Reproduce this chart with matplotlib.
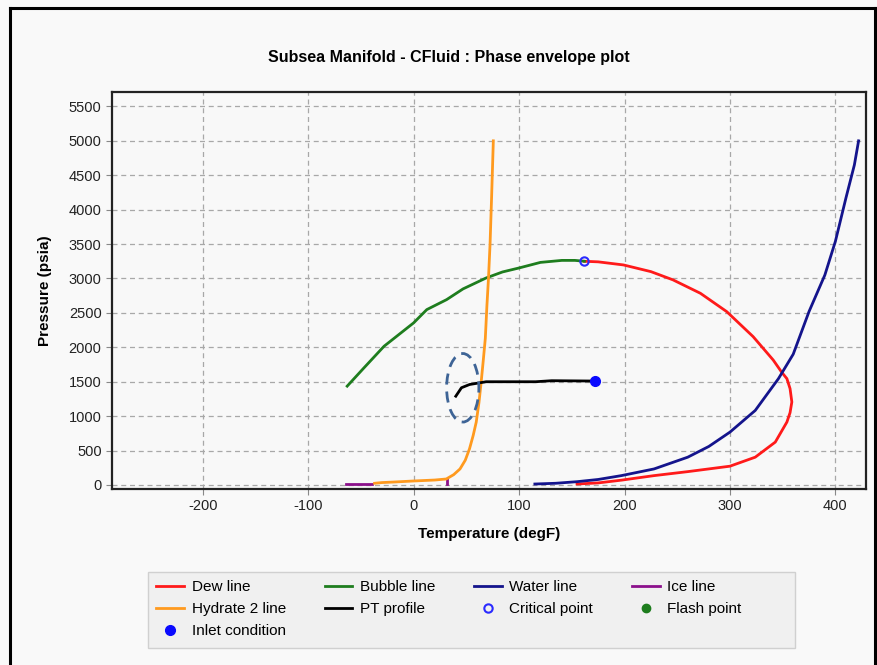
import numpy as np
import matplotlib
matplotlib.use("Agg")
import matplotlib.pyplot as plt
from matplotlib.patches import Ellipse, Rectangle
from matplotlib.lines import Line2D

plt.rcParams['font.family'] = ['Liberation Sans', 'DejaVu Sans']
plt.rcParams['axes.unicode_minus'] = False

# --- data (degF, psia) ---
dew_T = [162, 175, 199, 225, 246, 272, 297, 322, 341, 349, 354, 357, 358.7,
         357, 354, 343, 324, 300, 260, 228, 197, 175, 155]
dew_P = [3250, 3242, 3197, 3100, 2980, 2785, 2518, 2155, 1816, 1640, 1545, 1400, 1206,
         1050, 914, 623, 404, 273, 194, 136, 70, 30, 14]

bubble_T = [-63, -47, -28, 0, 12.5, 31.3, 46.9, 68.8, 84.3, 100, 120.3, 140.6, 153, 162]
bubble_P = [1436, 1703, 2016, 2355, 2548, 2693, 2849, 3008, 3095, 3153, 3234, 3263, 3263, 3250]

water_T = [115, 135, 155, 175, 197, 228, 260, 280, 300, 324, 346, 360, 375, 390, 400, 410, 418, 422]
water_P = [14, 25, 48, 80, 136, 233, 404, 560, 768, 1083, 1545, 1900, 2520, 3050, 3540, 4170, 4650, 5000]

ice_T = [-64, -39, np.nan, 31.3, 31.3]
ice_P = [20, 20, np.nan, 15, 90]

hydrate_T = [-37, -30, -20, -10, 0, 10, 20, 31, 38, 44, 49, 53, 56.5, 59.4, 62,
             64.1, 66, 68, 69.5, 71, 72.5, 74, 75.6]
hydrate_P = [25, 35, 42, 50, 58, 65, 72, 87, 150, 233, 360, 525, 720, 914, 1200,
             1500, 1800, 2130, 2600, 3000, 3500, 4200, 5000]

pt_T = [40, 45.4, 53.1, 68.8, 115.6, 131, 172]
pt_P = [1290, 1413, 1460, 1500, 1500, 1515, 1510]

critical_T, critical_P = [162], [3250]
flash_T, flash_P = [], []
inlet_T, inlet_P = [172], [1510]

# hand-drawn highlight around the start of the PT profile
mark_center = (46.6, 1412)
mark_size = (30.6, 996)

fig = plt.figure(figsize=(8.78, 6.65), dpi=100, facecolor='#f9f9f9')
ax = fig.add_axes([0.1276, 0.2647, 0.8587, 0.5970])
ax.set_facecolor('#f8f8f8')

ax.plot(dew_T, dew_P, color='#ff1a1a', lw=2, label='Dew line', zorder=3)
ax.plot(bubble_T, bubble_P, color='#1e7d1e', lw=2, label='Bubble line', zorder=3)
ax.plot(water_T, water_P, color='#14148c', lw=2, label='Water line', zorder=3)
ax.plot(ice_T, ice_P, color='#8b108b', lw=2, label='Ice line', zorder=3)
ax.plot(hydrate_T, hydrate_P, color='#ff9a1f', lw=2, label='Hydrate 2 line', zorder=3)
ax.plot(pt_T, pt_P, color='black', lw=2, label='PT profile', zorder=4)
ax.plot(critical_T, critical_P, 'o', ms=6, mfc='none', mec='#2a2aff', mew=1.5,
        label='Critical point', zorder=5)
ax.plot(flash_T, flash_P, 'o', ms=6, color='#1e7d1e', label='Flash point', zorder=5)
ax.plot(inlet_T, inlet_P, 'o', ms=7, color='#0a0aff', label='Inlet condition', zorder=5)

ax.add_patch(Ellipse(mark_center, mark_size[0], mark_size[1], fill=False,
                     ec='#3e6496', lw=2, ls=(0, (4, 2.5)), zorder=6))

ax.set_xlim(-286, 429)
ax.set_ylim(-58, 5710)
ax.set_xticks(np.arange(-200, 401, 100))
ax.set_yticks(np.arange(0, 5501, 500))
ax.grid(True, color='#a8a8a8', ls=(0, (4, 3)), lw=0.9)
ax.tick_params(labelsize=10.5, labelcolor='#222222', color='#888888', length=4)
for s in ax.spines.values():
    s.set_linewidth(1.6)
    s.set_color('#222222')

ax.set_xlabel('Temperature (degF)', fontsize=11, fontweight='bold')
ax.set_ylabel('Pressure (psia)', fontsize=11, fontweight='bold')
ax.xaxis.set_label_coords(0.5, -0.095)
ax.yaxis.set_label_coords(-0.08, 0.5)

fig.text(0.511, 0.913, 'Subsea Manifold - CFluid : Phase envelope plot',
         ha='center', va='center', fontsize=11.5, fontweight='bold')

# legend box drawn separately; the chart control leaves empty room on its right
fig.add_artist(Rectangle((0.1686, 0.0256), 0.7369, 0.1143, transform=fig.transFigure,
                         fc='#f0f0f0', ec='#d0d0d0', lw=1, zorder=1))

# legend order chosen so the column-major fill matches the reference rows
handles, labels = ax.get_legend_handles_labels()
order = ['Dew line', 'Hydrate 2 line', 'Inlet condition', 'Bubble line', 'PT profile',
         'Water line', 'Critical point', 'Ice line', 'Flash point']
hmap = dict(zip(labels, handles))
leg = fig.legend([hmap[k] for k in order], order, loc='upper left',
                 bbox_to_anchor=(0.1686, 0.1398), ncol=4, fontsize=11,
                 frameon=False, borderaxespad=0, handlelength=1.8,
                 columnspacing=2.55, labelspacing=0.52, borderpad=0.55,
                 handletextpad=0.5)
leg.set_zorder(2)

# outer frame of the screenshot
for xs, ys in [([0.0114, 0.0114], [0.0, 0.988]), ([0.0114, 0.997], [0.988, 0.988]),
               ([0.997, 0.997], [0.0, 0.988])]:
    fig.add_artist(Line2D(xs, ys, color='black', lw=2.2, transform=fig.transFigure))

fig.savefig('out.png', dpi=100, facecolor=fig.get_facecolor())
